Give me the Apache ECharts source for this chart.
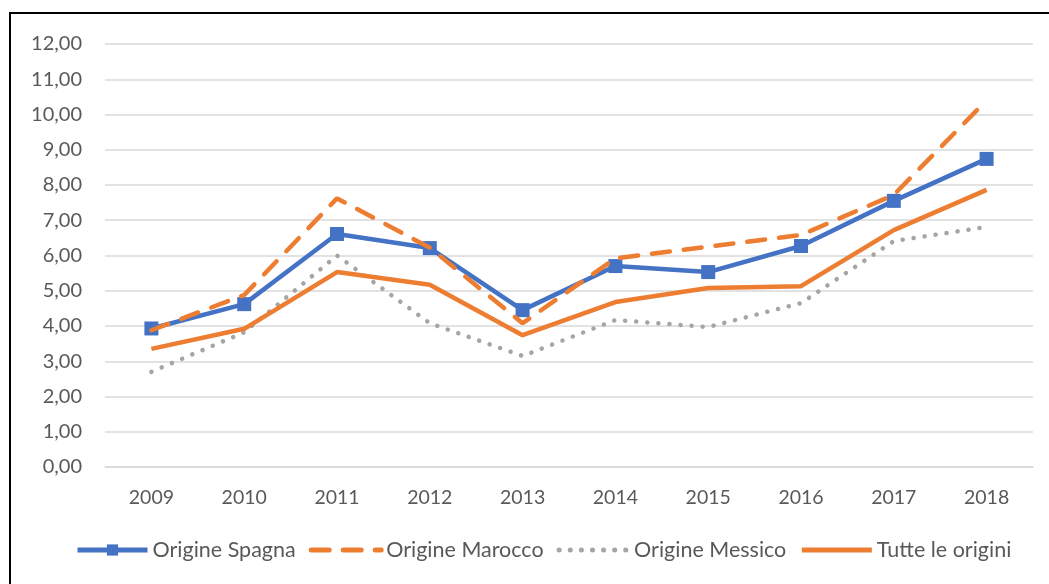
<!DOCTYPE html>
<html>
<head>
<meta charset="utf-8">
<script src="https://cdn.jsdelivr.net/npm/echarts@6/dist/echarts.min.js"></script>
<style>html,body{margin:0;padding:0;background:#fff}#c{width:1049px;height:584px}</style>
</head>
<body>
<div id="c"></div>
<script>
const years = ['2009','2010','2011','2012','2013','2014','2015','2016','2017','2018'];
const spagna = [3.93, 4.62, 6.61, 6.21, 4.45, 5.70, 5.53, 6.27, 7.55, 8.74];
const marocco = [3.88, 4.88, 7.62, 6.22, 4.08, 5.92, 6.25, 6.58, 7.72, 10.40];
const messico = [2.70, 3.82, 6.00, 4.08, 3.15, 4.17, 3.97, 4.65, 6.41, 6.81];
const tutte = [3.35, 3.92, 5.53, 5.17, 3.74, 4.68, 5.08, 5.13, 6.72, 7.86];
const names = ['Origine Spagna','Origine Marocco','Origine Messico','Tutte le origini'];

const chart = echarts.init(document.getElementById('c'));
const font = 'Lato, "Open Sans", sans-serif';
const hidden = { opacity: 0 };
chart.setOption({
  animation: false,
  textStyle: { fontFamily: font },
  graphic: [{
    type: 'rect', shape: { x: 10, y: 13, width: 1200, height: 700 },
    style: { fill: 'none', stroke: '#000', lineWidth: 2 }, silent: true, z: 100
  }],
  grid: { left: 105, right: 16, top: 44, bottom: 117 },
  legend: {
    bottom: 18, left: 70, itemWidth: 70, itemHeight: 14, itemGap: 13,
    lineStyle: { width: 5 },
    textStyle: { fontSize: 21.5, color: '#595959', fontFamily: font },
    data: [
      { name: names[0] },
      { name: names[1], itemStyle: hidden },
      { name: names[2], itemStyle: hidden },
      { name: names[3], itemStyle: hidden }
    ]
  },
  xAxis: {
    type: 'category', data: years, boundaryGap: true,
    axisLine: { lineStyle: { color: '#d9d9d9', width: 1.5 } },
    axisTick: { show: false },
    axisLabel: { color: '#595959', fontSize: 19.5, margin: 21 }
  },
  yAxis: {
    type: 'value', min: 0, max: 12, interval: 1,
    axisLine: { show: false }, axisTick: { show: false },
    splitLine: { lineStyle: { color: '#d9d9d9', width: 1.5 } },
    axisLabel: { color: '#595959', fontSize: 20, margin: 23,
      formatter: v => v.toFixed(2).replace('.', ',') }
  },
  series: [
    { name: names[0], type: 'line', data: spagna, symbol: 'rect', symbolSize: 14,
      color: '#4472C4', lineStyle: { width: 4.5, color: '#4472C4' },
      itemStyle: { color: '#4472C4' }, z: 3 },
    { name: names[1], type: 'line', data: marocco, showSymbol: false, symbol: 'none',
      color: '#ED7D31', lineStyle: { width: 4.5, color: '#ED7D31', type: [18, 14], cap: 'round' }, z: 4 },
    { name: names[2], type: 'line', data: messico, showSymbol: false, symbol: 'none',
      color: '#A5A5A5', lineStyle: { width: 4.5, color: '#A5A5A5', type: [0.1, 11], cap: 'round' }, z: 2 },
    { name: names[3], type: 'line', data: tutte, showSymbol: false, symbol: 'none',
      color: '#ED7D31', lineStyle: { width: 4.5, color: '#ED7D31' }, z: 2 }
  ]
});
</script>
</body>
</html>
